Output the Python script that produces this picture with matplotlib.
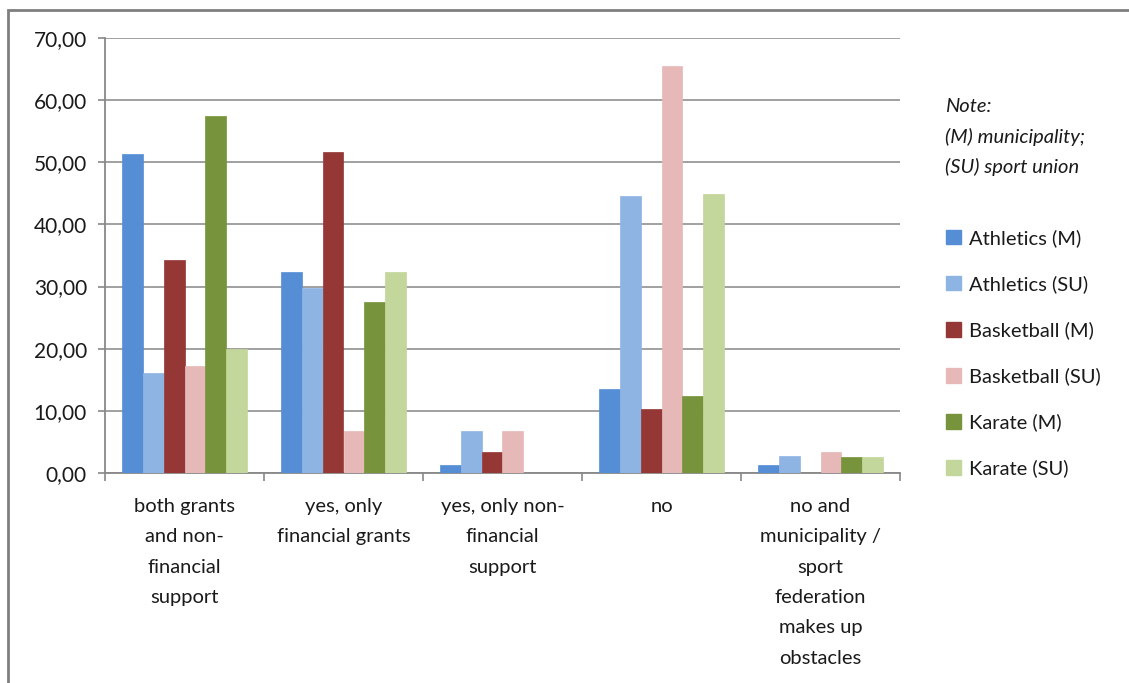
import numpy as np
import matplotlib
matplotlib.use("Agg")
from matplotlib import pyplot as plt
from matplotlib.ticker import FuncFormatter, FixedLocator
from matplotlib.patches import Rectangle, Patch

plt.rcParams["font.family"] = ["Lato", "DejaVu Sans"]

categories = [
    "both grants\nand non-\nfinancial\nsupport",
    "yes, only\nfinancial grants",
    "yes, only non-\nfinancial\nsupport",
    "no",
    "no and\nmunicipality /\nsport\nfederation\nmakes up\nobstacles",
]

series = ["Athletics (M)", "Athletics (SU)", "Basketball (M)",
          "Basketball (SU)", "Karate (M)", "Karate (SU)"]
colors = ["#558ED5", "#8EB4E3", "#953735", "#E6B9B8", "#77933C", "#C3D69B"]

athletics_m = [51.4, 32.4, 1.35, 13.5, 1.35]
athletics_su = [16.1, 29.7, 6.8, 44.6, 2.7]
basketball_m = [34.3, 51.6, 3.4, 10.3, 0.0]
basketball_su = [17.2, 6.8, 6.8, 65.5, 3.45]
karate_m = [57.5, 27.5, 0.0, 12.4, 2.5]
karate_su = [20.0, 32.4, 0.0, 44.9, 2.5]

values = [athletics_m, athletics_su, basketball_m, basketball_su, karate_m, karate_su]

fig = plt.figure(figsize=(11.29, 6.83), dpi=100)
ax = fig.add_axes([105 / 1129, 1 - 473 / 683, 795 / 1129, 435 / 683])

x = np.arange(len(categories))
width = 0.132
for i, (vals, col) in enumerate(zip(values, colors)):
    ax.bar(x + (i - 2.5) * width, vals, width, color=col, edgecolor=col,
           linewidth=0.5, zorder=3)

ax.set_xlim(-0.5, 4.5)
ax.set_ylim(0, 70)
ax.set_yticks(np.arange(0, 71, 10))
ax.yaxis.set_major_formatter(FuncFormatter(lambda v, p: f"{v:.2f}".replace(".", ",")))
ax.grid(axis="y", color="#999999", linewidth=1.3, zorder=0)

# category labels in the middle, tick marks on the boundaries
ax.xaxis.set_major_locator(FixedLocator(np.arange(-0.5, 4.6, 1)))
ax.set_xticklabels([])
ax.xaxis.set_minor_locator(FixedLocator(x))
ax.set_xticklabels(categories, minor=True, fontsize=14.5, linespacing=1.95,
                   color="#1a1a1a", va="top")
ax.tick_params(axis="x", which="minor", length=0, pad=18)
ax.tick_params(axis="x", which="major", length=6, color="#888888", width=1.2)
ax.tick_params(axis="y", length=5, color="#888888", width=1.2, labelsize=15,
               labelcolor="#1a1a1a", pad=8)

for s in ["top", "right"]:
    ax.spines[s].set_visible(False)
for s in ["left", "bottom"]:
    ax.spines[s].set_color("#888888")
    ax.spines[s].set_linewidth(1.3)

fig.text(945 / 1129, 1 - 137 / 683, "Note:\n(M) municipality;\n(SU) sport union",
         fontsize=14.5, style="italic", color="#1a1a1a", va="center",
         linespacing=1.85)

handles = [Patch(facecolor=c, edgecolor=c) for c in colors]
fig.legend(handles, series, loc="upper left",
           bbox_to_anchor=(928 / 1129, 1 - 211 / 683), frameon=False,
           fontsize=14.5, handlelength=0.75, handleheight=0.75,
           handletextpad=0.4, labelspacing=1.4, labelcolor="#1a1a1a")

# outer chart frame (only top and left edges fall inside the image)
fig.patches.append(Rectangle((8 / 1129, -0.05), 1.1, 1.05 - 10 / 683,
                             transform=fig.transFigure, fill=False,
                             edgecolor="#7f7f7f", linewidth=2))

fig.savefig("out.png", dpi=100)
